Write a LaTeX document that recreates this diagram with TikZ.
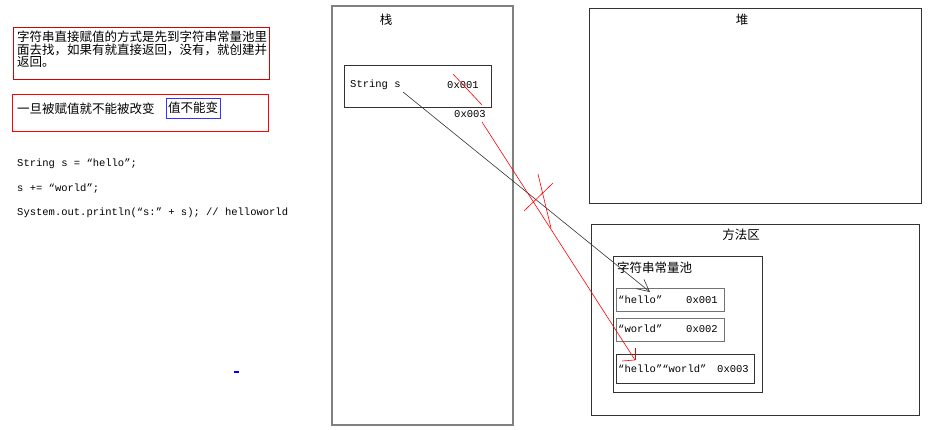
\documentclass[tikz,border=0pt]{standalone}
\usepackage{fontspec}
\setmainfont{Noto Sans CJK SC}
\setmonofont{Liberation Mono}
\usetikzlibrary{arrows.meta}

\begin{document}
\begin{tikzpicture}[x=1pt, y=-1pt,
  every node/.style={inner sep=0pt, font=\fontsize{12.5}{12.5}\selectfont},
  caja/.style={draw=black!80, line width=1pt, anchor=north west},
  codigo/.style={anchor=west, font=\ttfamily\fontsize{10.5}{10.5}\selectfont},
  >={Straight Barb[length=12pt,width=12pt]}]
  \useasboundingbox (0,0) rectangle (938,429);

  % Notas
  \node[caja, draw=red!85!black, minimum width=256, minimum height=52] (nota1) at (13,27) {};
  \node[anchor=north west, align=left] (texto1) at (17,31)
    {字符串直接赋值的方式是先到字符串常量池里\\面去找，如果有就直接返回，没有，就创建并\\返回。};
  \node[caja, draw=red, minimum width=256, minimum height=37] (nota2) at (12,94) {};
  \node[anchor=west] (texto2) at (17,109) {一旦被赋值就不能被改变};
  \node[draw=blue!80, line width=1pt, minimum width=54, minimum height=20] (valor) at (193,108) {值不能变};

  % Codigo
  \node[codigo] (linea1) at (17,164) {String s = “hello”;};
  \node[codigo] (linea2) at (17,189) {s += “world”;};
  \node[codigo] (linea3) at (17,213) {System.out.println(“s:” + s); // helloworld};
  \draw[blue, line width=2pt] (234,372) -- (239,372);

  % Pila
  \node[caja, draw=gray, line width=1.5pt, minimum width=181, minimum height=419] (pila) at (331,5) {};
  \node (pilaT) at (386,20) {栈};
  \node[caja, minimum width=147, minimum height=42] (varS) at (344,65) {};
  \node[codigo] (nomS) at (350,85) {String s};
  \node[codigo] (dir1) at (447,85) {0x001};
  \node[codigo] (dir3) at (454,114) {0x003};

  % Montón
  \node[caja, minimum width=332, minimum height=195] (monton) at (589,8) {};
  \node (montonT) at (742,20) {堆};

  % Área de métodos
  \node[caja, minimum width=328, minimum height=191] (metodos) at (591,224) {};
  \node (metodosT) at (741,235) {方法区};
  \node[caja, minimum width=149, minimum height=136] (pool) at (613,256) {};
  \node[anchor=west] (poolT) at (617,268) {字符串常量池};
  \node[caja, draw=gray!90!black, minimum width=108, minimum height=23] (hello) at (616,288) {};
  \node[codigo] (helloT) at (618,300) {“hello”};
  \node[codigo] (helloD) at (686,300) {0x001};
  \node[caja, draw=gray!90!black, minimum width=108, minimum height=23] (world) at (616,318) {};
  \node[codigo] (worldT) at (618,329) {“world”};
  \node[codigo] (worldD) at (686,329) {0x002};
  \node[caja, minimum width=138, minimum height=29] (hw) at (616,354) {};
  \node[codigo] (hwT) at (618,369) {“hello”“world”};
  \node[codigo] (hwD) at (717,369) {0x003};

  % Puntos
  \coordinate (sIni) at (403,92);
  \coordinate (sFin) at (650,292);
  \coordinate (tIni) at (453,74);
  \coordinate (tFin) at (482,105);
  \coordinate (rIni) at (482,122);
  \coordinate (rFin) at (635,360);
  \coordinate (xa1) at (538,174);
  \coordinate (xa2) at (551,228);
  \coordinate (xb1) at (524,211);
  \coordinate (xb2) at (553,183);

  % Flechas
  \draw[->, black!80, line width=0.6pt] (sIni) -- (sFin);
  \draw[red, line width=0.6pt] (tIni) -- (tFin);
  \draw[red, line width=0.6pt] (rIni) -- (rFin);
  \draw[red, line width=0.6pt] (rFin) -- ++(0,-12);
  \draw[red, line width=0.6pt] (rFin) -- ++(-13,1);
  \draw[red, line width=0.6pt] (xa1) -- (xa2);
  \draw[red, line width=0.6pt] (xb1) -- (xb2);
\end{tikzpicture}
\end{document}
